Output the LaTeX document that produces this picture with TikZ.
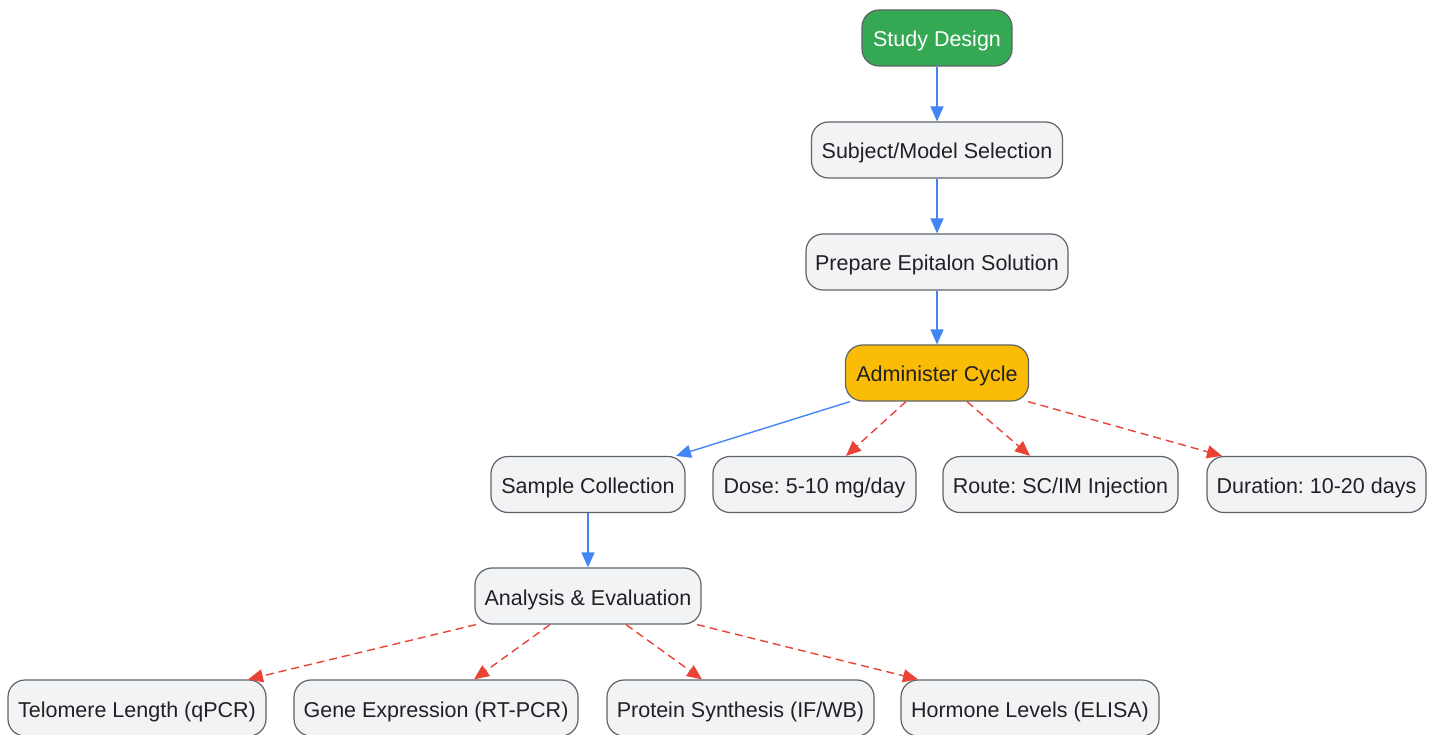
\documentclass[tikz,border=0pt]{standalone}
\usepackage{fontspec}
\setmainfont{Liberation Sans}
\frenchspacing
\usetikzlibrary{arrows.meta,calc}
\definecolor{nodefill}{HTML}{F1F3F4}
\definecolor{nodeborder}{HTML}{5F6368}
\definecolor{gfill}{HTML}{34A853}
\definecolor{yfill}{HTML}{FBBC05}
\definecolor{blueline}{HTML}{4285F4}
\definecolor{redline}{HTML}{EA4335}
\definecolor{txt}{HTML}{202124}
\tikzset{
  box/.style={draw=nodeborder, line width=1.2pt, fill=nodefill, rounded corners=17pt,
    minimum height=56pt, inner sep=0pt, text=txt, font=\fontsize{21.5}{25}\selectfont,
    text height=20pt, text depth=2pt},
  greenbox/.style={box, fill=gfill, text=white},
  yellowbox/.style={box, fill=yfill},
  solidarrow/.style={draw=blueline, line width=1.4pt, -{Triangle[length=15pt,width=13pt]}},
  dasharrow/.style={draw=redline, line width=1.4pt, dash pattern=on 8pt off 5pt, -{Triangle[length=15pt,width=13pt,fill=redline]}}
}
\begin{document}
\begin{tikzpicture}[x=1pt,y=-1pt]
\useasboundingbox (0,0) rectangle (1436,735);
\node[greenbox, minimum width=150pt] (design) at (937,38) {Study Design};
\node[box, minimum width=251pt] (subject) at (937,150) {Subject/Model Selection};
\node[box, minimum width=262pt] (prepare) at (937,262) {Prepare Epitalon Solution};
\node[yellowbox, minimum width=183pt] (admin) at (937,373) {Administer Cycle};
\node[box, minimum width=194pt] (sample) at (588,484.5) {Sample Collection};
\node[box, minimum width=203pt] (dose) at (814.5,484.5) {Dose: 5-10 mg/day};
\node[box, minimum width=235pt] (route) at (1060.5,484.5) {Route: SC/IM Injection};
\node[box, minimum width=219pt] (duration) at (1316.5,484.5) {Duration: 10-20 days};
\node[box, minimum width=226pt] (analysis) at (588,596) {Analysis \& Evaluation};
\node[box, minimum width=258pt] (telomere) at (137,708) {Telomere Length (qPCR)};
\node[box, minimum width=284pt] (gene) at (436,708) {Gene Expression (RT-PCR)};
\node[box, minimum width=267pt] (protein) at (740.5,708) {Protein Synthesis (IF/WB)};
\node[box, minimum width=258pt] (hormone) at (1030,708) {Hormone Levels (ELISA)};

\draw[solidarrow] (design.south) -- (subject.north);
\draw[solidarrow] (subject.south) -- (prepare.north);
\draw[solidarrow] (prepare.south) -- (admin.north);
\draw[solidarrow] ($(admin.south)+(-87,0)$) -- ($(sample.north)+(88,0)$);
\draw[dasharrow] ($(admin.south)+(-31,0)$) -- ($(dose.north)+(31.5,0)$);
\draw[dasharrow] ($(admin.south)+(30,0)$) -- ($(route.north)+(-30.5,0)$);
\draw[dasharrow] ($(admin.south)+(91,0)$) -- ($(duration.north)+(-94.5,0)$);
\draw[solidarrow] (sample.south) -- (analysis.north);
\draw[dasharrow] ($(analysis.south)+(-112,0)$) -- ($(telomere.north)+(111,0)$);
\draw[dasharrow] ($(analysis.south)+(-38,0)$) -- ($(gene.north)+(38,0)$);
\draw[dasharrow] ($(analysis.south)+(38,0)$) -- ($(protein.north)+(-38.5,0)$);
\draw[dasharrow] ($(analysis.south)+(109,0)$) -- ($(hormone.north)+(-112,0)$);
\end{tikzpicture}
\end{document}
